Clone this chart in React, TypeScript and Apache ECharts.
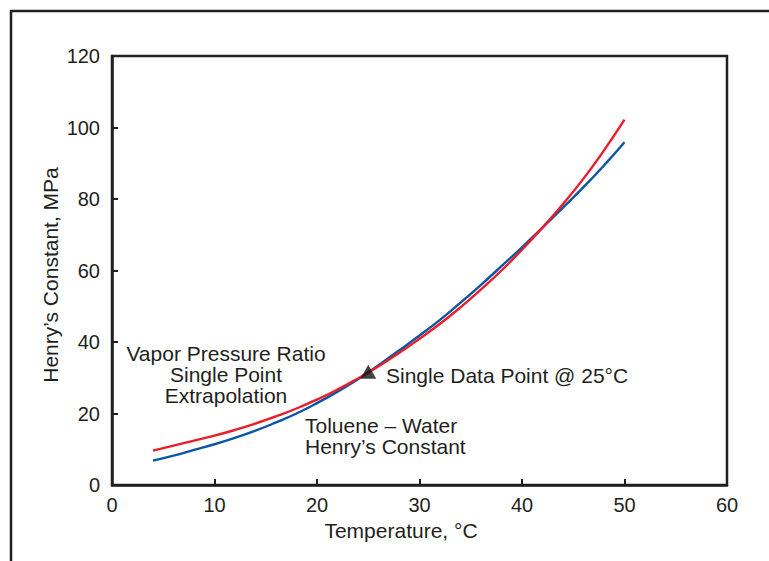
import React, { useEffect, useRef } from "react";
import * as echarts from "echarts";

const temps = [4, 6, 8, 10, 12, 14, 16, 18, 20, 22, 24, 25, 26, 28, 30, 32, 34, 36, 38, 40, 42, 44, 46, 48, 50];
const blueValues = [6.8, 8.2, 9.8, 11.4, 13.2, 15.2, 17.5, 20.0, 22.9, 26.1, 29.6, 31.5, 33.5, 37.6, 41.8, 46.2, 51.0, 56.0, 61.2, 66.5, 72.0, 77.6, 83.3, 89.4, 95.9];
const redValues = [9.6, 11.0, 12.4, 13.8, 15.4, 17.2, 19.2, 21.4, 23.9, 26.7, 29.8, 31.5, 33.2, 36.9, 40.9, 45.1, 49.7, 54.7, 60.0, 65.8, 72.0, 78.6, 85.7, 93.6, 102.2];
const dataPoint = [[25, 31.7]];

const xTicks = { min: 0, max: 60, interval: 10 };
const yTicks = { min: 0, max: 120, interval: 20 };

const xTitle = "Temperature, °C";
const yTitle = "Henry’s Constant, MPa";

const ink = "#231f20";
const FONT = "'Liberation Sans', Arial, Helvetica, sans-serif";

export default function App() {
  const ref = useRef<HTMLDivElement>(null);
  useEffect(() => {
    if (!ref.current) return;
    const chart = echarts.init(ref.current, null, { renderer: "svg" });
    const blue = temps.map((t, i) => [t, blueValues[i]]);
    const red = temps.map((t, i) => [t, redValues[i]]);
    chart.setOption({
      animation: false,
      backgroundColor: "#ffffff",
      textStyle: { fontFamily: FONT },
      grid: {
        left: 112,
        top: 56,
        right: 42,
        bottom: 76,
        show: true,
        borderColor: ink,
        borderWidth: 2.5,
        backgroundColor: "transparent",
      },
      xAxis: {
        type: "value",
        min: xTicks.min,
        max: xTicks.max,
        interval: xTicks.interval,
        axisLine: { show: true, lineStyle: { color: ink, width: 2.5 } },
        axisTick: { show: true, inside: true, length: 6, lineStyle: { color: ink, width: 2 } },
        axisLabel: { fontSize: 20, color: ink, margin: 10, fontFamily: FONT },
        splitLine: { show: false },
      },
      yAxis: {
        type: "value",
        min: yTicks.min,
        max: yTicks.max,
        interval: yTicks.interval,
        axisLine: { show: true, lineStyle: { color: ink, width: 2.5 } },
        axisTick: { show: true, inside: true, length: 6, lineStyle: { color: ink, width: 2 } },
        axisLabel: { fontSize: 20, color: ink, margin: 12, fontFamily: FONT },
        splitLine: { show: false },
      },
      series: [
        {
          name: "Toluene – Water Henry’s Constant",
          type: "line",
          data: blue,
          smooth: true,
          showSymbol: false,
          lineStyle: { color: "#0a56a5", width: 2.4 },
          z: 2,
        },
        {
          name: "Vapor Pressure Ratio Single Point Extrapolation",
          type: "line",
          data: red,
          smooth: true,
          showSymbol: false,
          lineStyle: { color: "#ec1c2a", width: 2.4 },
          z: 3,
        },
        {
          name: "Single Data Point @ 25°C",
          type: "scatter",
          data: dataPoint,
          symbol: "triangle",
          symbolSize: [16, 14],
          itemStyle: { color: "#111111" },
          z: 4,
        },
      ],
      graphic: [
        { type: "line", shape: { x1: 10, y1: 11, x2: 769, y2: 11 }, style: { stroke: ink, lineWidth: 2.5 } },
        { type: "line", shape: { x1: 11, y1: 10, x2: 11, y2: 561 }, style: { stroke: ink, lineWidth: 2.5 } },
        {
          type: "text",
          x: 401,
          y: 530,
          style: {
            text: xTitle,
            font: `21px ${FONT}`,
            fill: ink,
            align: "center",
            verticalAlign: "middle",
          },
        },
        {
          type: "text",
          x: 50,
          y: 275,
          rotation: Math.PI / 2,
          style: {
            text: yTitle,
            font: `21px ${FONT}`,
            fill: ink,
            align: "center",
            verticalAlign: "middle",
          },
        },
        {
          type: "text",
          x: 226,
          y: 374,
          style: {
            text: "Vapor Pressure Ratio\nSingle Point\nExtrapolation",
            font: `21px ${FONT}`,
            fill: ink,
            align: "center",
            verticalAlign: "middle",
            lineHeight: 21,
          },
        },
        {
          type: "text",
          x: 386,
          y: 375,
          style: {
            text: "Single Data Point @ 25°C",
            font: `21px ${FONT}`,
            fill: ink,
            align: "left",
            verticalAlign: "middle",
          },
        },
        {
          type: "text",
          x: 305,
          y: 436,
          style: {
            text: "Toluene – Water\nHenry’s Constant",
            font: `21px ${FONT}`,
            fill: ink,
            align: "left",
            verticalAlign: "middle",
            lineHeight: 21,
          },
        },
      ],
    });
    return () => chart.dispose();
  }, []);
  return (
    <div
      ref={ref}
      style={{ position: "fixed", left: 0, top: 0, width: 769, height: 561, background: "#fff" }}
    />
  );
}
